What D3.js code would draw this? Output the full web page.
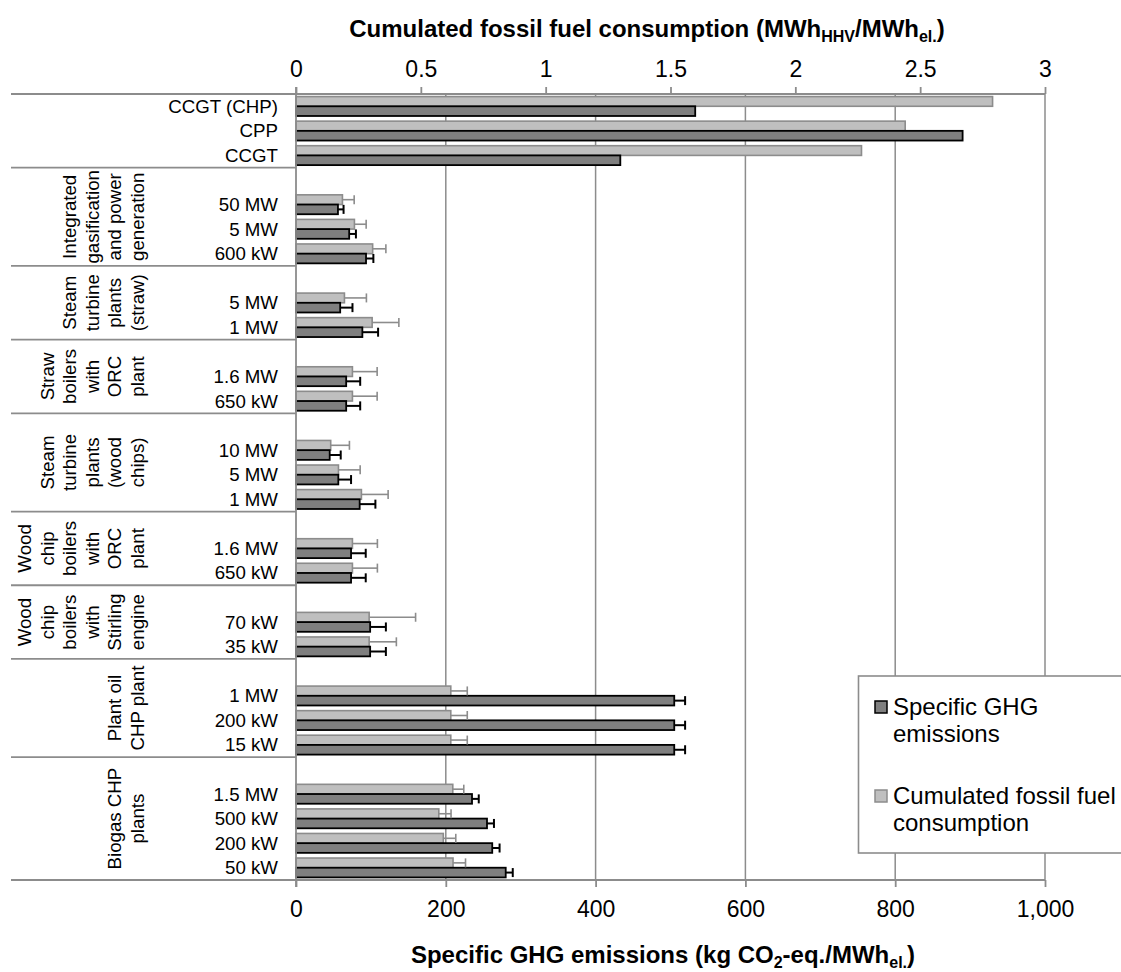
<!DOCTYPE html>
<html>
<head>
<meta charset="utf-8">
<script src="https://cdn.jsdelivr.net/npm/d3@7"></script>
<style>
  body { margin: 0; background: #fff; }
  text { font-family: "Liberation Sans", Arial, sans-serif; fill: #000; }
</style>
</head>
<body>
<div id="chart"></div>
<script>
// categories top to bottom, '' is an empty spacer row inside a group
const categories = [
  'CCGT (CHP)', 'CPP', 'CCGT',
  '', '50 MW', '5 MW', '600 kW',
  '', '5 MW', '1 MW',
  '', '1.6 MW', '650 kW',
  '', '10 MW', '5 MW', '1 MW',
  '', '1.6 MW', '650 kW',
  '', '70 kW', '35 kW',
  '', '1 MW', '200 kW', '15 kW',
  '', '1.5 MW', '500 kW', '200 kW', '50 kW'
]
const groupSizes = [3, 4, 3, 3, 4, 3, 3, 4, 5]
const groupLabels = [
  [],
  ['Integrated', 'gasification', 'and power', 'generation'],
  ['Steam', 'turbine', 'plants', '(straw)'],
  ['Straw', 'boilers', 'with', 'ORC', 'plant'],
  ['Steam', 'turbine', 'plants', '(wood', 'chips)'],
  ['Wood', 'chip', 'boilers', 'with', 'ORC', 'plant'],
  ['Wood', 'chip', 'boilers', 'with', 'Stirling', 'engine'],
  ['Plant oil', 'CHP plant'],
  ['Biogas CHP', 'plants']
]
// specific GHG emissions (kg CO2-eq./MWh el.)
const ghg = [533, 890, 433,
  null, 56, 71, 93.5,
  null, 59, 88.6,
  null, 67, 67,
  null, 45, 56.5, 85,
  null, 73.5, 73.5,
  null, 99, 99,
  null, 505, 505, 505,
  null, 235, 255, 262, 280]
const ghgErr = [null, null, null,
  null, 7.5, 9, 9.8,
  null, 16.4, 21,
  null, 18.7, 18.7,
  null, 14.7, 17, 21,
  null, 19.6, 19.6,
  null, 21, 21,
  null, 14.5, 14.5, 14.5,
  null, 9, 9.3, 9.8, 9.4]
// cumulated fossil fuel consumption (MWh HHV/MWh el.)
const fossil = [2.79, 2.44, 2.265,
  null, 0.186, 0.234, 0.307,
  null, 0.194, 0.305,
  null, 0.226, 0.226,
  null, 0.139, 0.17, 0.262,
  null, 0.226, 0.226,
  null, 0.293, 0.293,
  null, 0.62, 0.62, 0.62,
  null, 0.628, 0.572, 0.59, 0.629]
const fossilErr = [null, null, null,
  null, 0.047, 0.047, 0.053,
  null, 0.088, 0.107,
  null, 0.099, 0.099,
  null, 0.075, 0.087, 0.107,
  null, 0.1, 0.1,
  null, 0.186, 0.109,
  null, 0.066, 0.066, 0.066,
  null, 0.044, 0.049, 0.05, 0.05]
const ghgTicks = [0, 200, 400, 600, 800, 1000]
const fossilTicks = [0, 0.5, 1, 1.5, 2, 2.5, 3]
const legendItems = [
  { lines: ['Specific GHG', 'emissions'], fill: '#7f7f7f', stroke: '#000' },
  { lines: ['Cumulated fossil fuel', 'consumption'], fill: '#bfbfbf', stroke: '#8c8c8c' }
]

const width = 1121
const height = 972
const plotLeft = 296
const plotRight = 1045
const plotTop = 94
const plotBottom = 880
const grey = '#8c8c8c'

const svg = d3.select('#chart').append('svg')
  .attr('width', width).attr('height', height)

const y = d3.scaleBand().domain(d3.range(categories.length)).range([plotTop, plotBottom])
const xG = d3.scaleLinear().domain([0, 1000]).range([plotLeft, plotRight])
const xF = d3.scaleLinear().domain([0, 3]).range([plotLeft, plotRight])
const barH = y.bandwidth() * 0.395

// gridlines from the bottom axis
svg.append('g').selectAll('line').data(ghgTicks.slice(1)).enter().append('line')
  .attr('x1', d => xG(d)).attr('x2', d => xG(d))
  .attr('y1', plotTop).attr('y2', plotBottom)
  .attr('stroke', grey).attr('stroke-width', 1.5)

const rows = d3.range(categories.length).filter(i => ghg[i] !== null)

// light bars (fossil fuel)
svg.append('g').selectAll('rect').data(rows).enter().append('rect')
  .attr('x', plotLeft)
  .attr('y', i => y(i) + y.bandwidth() / 2 - barH)
  .attr('width', i => xF(fossil[i]) - plotLeft)
  .attr('height', barH)
  .attr('fill', '#bfbfbf').attr('stroke', grey).attr('stroke-width', 1.6)

// dark bars (GHG)
svg.append('g').selectAll('rect').data(rows).enter().append('rect')
  .attr('x', plotLeft)
  .attr('y', i => y(i) + y.bandwidth() / 2)
  .attr('width', i => xG(ghg[i]) - plotLeft)
  .attr('height', barH)
  .attr('fill', '#7f7f7f').attr('stroke', '#000').attr('stroke-width', 1.8)

function errorBars (data, value, err, scale, dy, color, sw) {
  const g = svg.append('g').attr('stroke', color).attr('stroke-width', sw)
  data.filter(i => err[i] !== null).forEach(i => {
    const cy = y(i) + y.bandwidth() / 2 + dy
    const x1 = scale(value[i])
    const x2 = scale(value[i] + err[i])
    g.append('line').attr('x1', x1).attr('x2', x2).attr('y1', cy).attr('y2', cy)
    g.append('line').attr('x1', x2).attr('x2', x2).attr('y1', cy - 4.5).attr('y2', cy + 4.5)
  })
}
errorBars(rows, fossil, fossilErr, xF, -barH / 2, grey, 1.6)
errorBars(rows, ghg, ghgErr, xG, barH / 2, '#000', 2)

// axis frame lines
svg.append('line').attr('x1', 11).attr('x2', plotRight).attr('y1', plotTop).attr('y2', plotTop)
  .attr('stroke', grey).attr('stroke-width', 1.8)
svg.append('line').attr('x1', 11).attr('x2', plotRight).attr('y1', plotBottom).attr('y2', plotBottom)
  .attr('stroke', grey).attr('stroke-width', 1.8)
svg.append('line').attr('x1', plotLeft).attr('x2', plotLeft).attr('y1', plotTop - 7).attr('y2', plotBottom + 7)
  .attr('stroke', grey).attr('stroke-width', 1.8)

// group separators and group labels
let start = 0
groupSizes.forEach((n, gi) => {
  const y0 = y(start)
  const y1 = y(start + n - 1) + y.bandwidth()
  if (gi > 0) {
    svg.append('line').attr('x1', 11).attr('x2', plotLeft).attr('y1', y0).attr('y2', y0)
      .attr('stroke', grey).attr('stroke-width', 1.8)
  }
  const lines = groupLabels[gi]
  lines.forEach((t, li) => {
    const cx = 137 - (lines.length - 1 - li) * 22.5
    svg.append('text')
      .attr('transform', `translate(${cx},${(y0 + y1) / 2}) rotate(-90)`)
      .attr('text-anchor', 'middle').attr('dominant-baseline', 'central')
      .style('font-size', '18.7px')
      .text(t)
  })
  start += n
})

// category labels
svg.append('g').selectAll('text').data(rows).enter().append('text')
  .attr('x', 278).attr('y', i => y(i) + y.bandwidth() / 2)
  .attr('text-anchor', 'end').attr('dominant-baseline', 'central')
  .style('font-size', '18.7px')
  .text(i => categories[i])

// axes
const topAxis = svg.append('g').attr('transform', `translate(0,${plotTop})`)
  .call(d3.axisTop(xF).tickValues(fossilTicks).tickFormat(d => String(d)).tickSize(7).tickPadding(10))
const botAxis = svg.append('g').attr('transform', `translate(0,${plotBottom})`)
  .call(d3.axisBottom(xG).tickValues(ghgTicks).tickFormat(d3.format(',')).tickSize(7).tickPadding(14))
;[topAxis, botAxis].forEach(a => {
  a.select('.domain').remove()
  a.selectAll('.tick line').attr('stroke', grey).attr('stroke-width', 1.8)
  a.selectAll('.tick text').style('font-size', '23px')
    .style('font-family', '"Liberation Sans", Arial, sans-serif').attr('fill', '#000')
})

// titles
const t1 = svg.append('text').attr('x', 647).attr('y', 37).attr('text-anchor', 'middle')
  .style('font-size', '24px').style('font-weight', 'bold')
t1.append('tspan').text('Cumulated fossil fuel consumption (MWh')
t1.append('tspan').text('HHV').style('font-size', '16px').attr('dy', 5)
t1.append('tspan').text('/MWh').attr('dy', -5)
t1.append('tspan').text('el.').style('font-size', '16px').attr('dy', 5)
t1.append('tspan').text(')').attr('dy', -5)

const t2 = svg.append('text').attr('x', 663).attr('y', 963).attr('text-anchor', 'middle')
  .style('font-size', '24px').style('font-weight', 'bold')
t2.append('tspan').text('Specific GHG emissions (kg CO')
t2.append('tspan').text('2').style('font-size', '16px').attr('dy', 5)
t2.append('tspan').text('-eq./MWh').attr('dy', -5)
t2.append('tspan').text('el.').style('font-size', '16px').attr('dy', 5)
t2.append('tspan').text(')').attr('dy', -5)

// legend
const lg = svg.append('g')
lg.append('rect').attr('x', 858.5).attr('y', 676).attr('width', 300).attr('height', 177)
  .attr('fill', '#fff').attr('stroke', grey).attr('stroke-width', 1.6)
legendItems.forEach((item, k) => {
  const by = 715 + k * 89
  lg.append('rect').attr('x', 875).attr('y', by - 14).attr('width', 12).attr('height', 12)
    .attr('fill', item.fill).attr('stroke', item.stroke).attr('stroke-width', 1.5)
  item.lines.forEach((t, j) => {
    lg.append('text').attr('x', 893).attr('y', by + j * 27)
      .style('font-size', '24px').text(t)
  })
})
</script>
</body>
</html>
